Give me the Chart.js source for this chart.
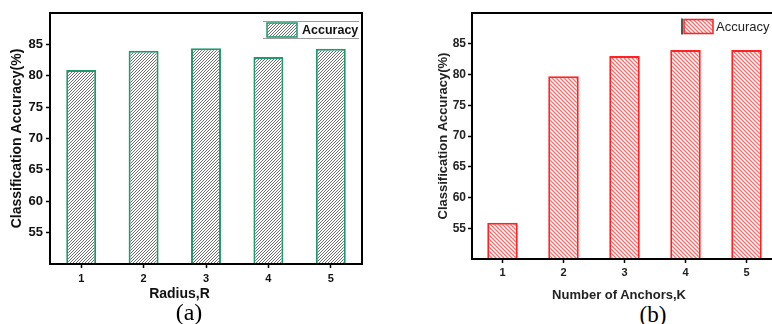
<!DOCTYPE html>
<html>
<head>
<meta charset="utf-8">
<script src="https://cdn.jsdelivr.net/npm/chart.js@4.4.1/dist/chart.umd.min.js"></script>
<style>
  html, body { margin:0; padding:0; background:#fff; }
  body { width:772px; height:324px; position:relative; overflow:hidden; font-family:"Liberation Sans", Arial, sans-serif; }
  .wrap { position:absolute; }
  .lbl { position:absolute; white-space:nowrap; transform:translate(-50%,-50%); }
</style>
</head>
<body>
<div class="wrap" style="left:0;top:0;width:380px;height:290px;"><canvas id="cA" width="380" height="290"></canvas></div>
<div class="wrap" style="left:430px;top:0;width:360px;height:290px;"><canvas id="cB" width="360" height="290"></canvas></div>
<div class="lbl" style="left:179.5px;top:293px;font:bold 14px 'Liberation Sans',Arial,sans-serif;color:#111;">Radius,R</div>
<div class="lbl" style="left:619px;top:294px;font:bold 13px 'Liberation Sans',Arial,sans-serif;color:#222;">Number of Anchors,K</div>
<div class="lbl" style="left:189px;top:312px;font:24px 'Liberation Serif','Times New Roman',serif;color:#000;">(a)</div>
<div class="lbl" style="left:653px;top:315px;font:23px 'Liberation Serif','Times New Roman',serif;color:#000;">(b)</div>
<script>
// ---- data ----
const radiusLabels = ['1','2','3','4','5'];
const accuracyRadius = [80.9, 84.0, 84.4, 83.0, 84.3];
const anchorLabels = ['1','2','3','4','5'];
const accuracyAnchors = [55.9, 79.7, 83.0, 84.0, 84.0];
const yTicks = [55, 60, 65, 70, 75, 80, 85];
const yMin = 50, yMax = 90;
const seriesName = 'Accuracy';

function hatch(color, dir, s, lw) {
  const c = document.createElement('canvas');
  c.width = s; c.height = s;
  const x = c.getContext('2d');
  x.fillStyle = '#fff'; x.fillRect(0,0,s,s);
  x.strokeStyle = color; x.lineWidth = lw;
  x.beginPath();
  if (dir > 0) {
    x.moveTo(0,s); x.lineTo(s,0);
    x.moveTo(-1,1); x.lineTo(1,-1);
    x.moveTo(s-1,s+1); x.lineTo(s+1,s-1);
  } else {
    x.moveTo(0,0); x.lineTo(s,s);
    x.moveTo(-1,s-1); x.lineTo(1,s+1);
    x.moveTo(s-1,-1); x.lineTo(s+1,1);
  }
  x.stroke();
  return x.createPattern(c, 'repeat');
}

const frame = {
  id: 'frame',
  afterDatasetsDraw(chart) {
    const {ctx, chartArea: a} = chart;
    ctx.save();
    ctx.strokeStyle = '#000'; ctx.lineWidth = 2;
    ctx.strokeRect(a.left, a.top, a.right - a.left, a.bottom - a.top);
    ctx.restore();
  }
};

function legendPlugin(cfg) {
  return {
    id: 'lg',
    afterDraw(chart) {
      const ctx = chart.ctx;
      const ds = chart.data.datasets[0];
      ctx.save();
      if (cfg.lines) {
        ctx.strokeStyle = '#9a9a9a'; ctx.lineWidth = 1;
        ctx.beginPath();
        ctx.moveTo(cfg.lines[0], cfg.lines[2] + 0.5); ctx.lineTo(cfg.lines[1], cfg.lines[2] + 0.5);
        ctx.moveTo(cfg.lines[0], cfg.lines[3] + 0.5); ctx.lineTo(cfg.lines[1], cfg.lines[3] + 0.5);
        ctx.stroke();
      }
      if (cfg.bar) {
        ctx.strokeStyle = '#555'; ctx.lineWidth = 2;
        ctx.beginPath(); ctx.moveTo(cfg.bar, cfg.y - 1); ctx.lineTo(cfg.bar, cfg.y + cfg.h + 1); ctx.stroke();
      }
      ctx.fillStyle = ds.backgroundColor;
      ctx.fillRect(cfg.x, cfg.y, cfg.w, cfg.h);
      ctx.strokeStyle = ds.borderColor; ctx.lineWidth = 1.5;
      ctx.strokeRect(cfg.x, cfg.y, cfg.w, cfg.h);
      ctx.fillStyle = cfg.color;
      ctx.font = cfg.font;
      ctx.textBaseline = 'middle';
      ctx.textAlign = 'left';
      ctx.fillText(ds.label, cfg.tx, cfg.y + cfg.h / 2 + 0.5);
      ctx.restore();
    }
  };
}

function makeChart(id, labels, values, opt) {
  return new Chart(document.getElementById(id), {
    type: 'bar',
    data: {
      labels: labels,
      datasets: [{
        label: seriesName,
        data: values,
        backgroundColor: opt.pattern,
        borderColor: opt.border,
        borderWidth: 2,
        barPercentage: opt.barPct,
        categoryPercentage: 1
      }]
    },
    options: {
      responsive: false,
      animation: false,
      devicePixelRatio: 1,
      layout: { padding: { top: 13, right: opt.padRight, left: 0, bottom: 0 } },
      plugins: { legend: { display: false }, tooltip: { enabled: false } },
      scales: {
        x: {
          type: 'category',
          offset: true,
          grid: { display: true, offset: false, drawOnChartArea: false, drawTicks: true, tickLength: 4, tickColor: '#000', tickWidth: 1.5 },
          border: { display: false },
          ticks: { color: opt.tickColor, font: { family: "'Liberation Sans', Arial, sans-serif", size: opt.xTickSize, weight: 'bold' }, padding: opt.xPad, maxRotation: 0 },
          afterFit: s => { s.height = opt.xHeight; }
        },
        y: {
          min: yMin, max: yMax,
          afterBuildTicks: s => { s.ticks = yTicks.map(v => ({ value: v })); },
          grid: { display: true, drawOnChartArea: false, drawTicks: true, tickLength: 4, tickColor: '#000', tickWidth: 1.5 },
          border: { display: false },
          ticks: { color: opt.tickColor, font: { family: "'Liberation Sans', Arial, sans-serif", size: opt.yTickSize, weight: 'bold' }, padding: opt.yPad },
          title: { display: true, text: 'Classification Accuracy(%)', color: opt.tickColor, font: { family: "'Liberation Sans', Arial, sans-serif", size: opt.yTitleSize, weight: 'bold' }, padding: { top: opt.yTitlePad, bottom: 0 } },
          afterFit: s => { s.width = opt.yWidth; }
        }
      }
    },
    plugins: [frame, legendPlugin(opt.legend)]
  });
}

makeChart('cA', radiusLabels, accuracyRadius, {
  pattern: hatch('#6e6e6e', 1, 3, 1), border: '#1f9a6c', barPct: 0.48, padRight: 18,
  tickColor: '#111', xTickSize: 11, yTickSize: 13, xPad: 4, yPad: 3, xHeight: 26, yWidth: 50,
  yTitleSize: 14, yTitlePad: 9,
  legend: { x: 267, y: 23, w: 30, h: 14, tx: 302, font: "bold 12.5px 'Liberation Sans', Arial, sans-serif", color: '#111', lines: [263, 359, 21, 38] }
});

makeChart('cB', anchorLabels, accuracyAnchors, {
  pattern: hatch('#ff6a6a', -1, 4, 1.3), border: '#ff2222', barPct: 0.5, padRight: 13,
  tickColor: '#222', xTickSize: 11, yTickSize: 12, xPad: 3, yPad: 2, xHeight: 31, yWidth: 42,
  yTitleSize: 13, yTitlePad: 6,
  legend: { x: 254, y: 19.5, w: 29, h: 14, tx: 286, font: "13px 'Liberation Sans', Arial, sans-serif", color: '#222', bar: 252 }
});
</script>
</body>
</html>
